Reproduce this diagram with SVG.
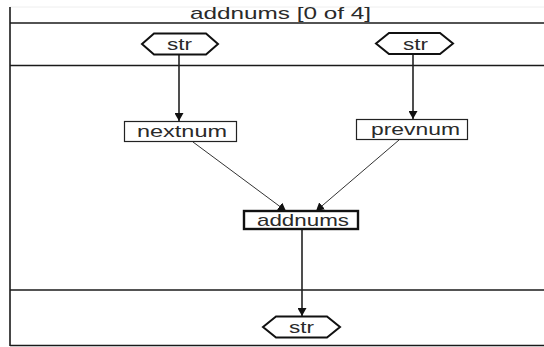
<svg xmlns="http://www.w3.org/2000/svg" width="544" height="347" viewBox="0 0 544 347">
  <style>
    .frame { stroke: #1a1a1a; stroke-width: 1.6; fill: none; }
    .lbl { font-family: "Liberation Sans", Arial, sans-serif; font-size: 17px; fill: #2a2a2a; }
    .port { fill: #fff; stroke: #111; stroke-width: 2; }
    .box { fill: #fff; stroke: #222; stroke-width: 1.2; }
    .boxb { fill: #fff; stroke: #111; stroke-width: 2.4; }
    .edge { stroke: #222; stroke-width: 1.6; fill: none; }
    .thin { stroke: #333; stroke-width: 1; fill: none; }
  </style>
  <defs>
    <marker id="arr" viewBox="0 0 8 9" refX="8" refY="4.5" markerWidth="8" markerHeight="9" markerUnits="userSpaceOnUse" orient="auto">
      <path d="M0,0 L8,4.5 L0,9 Z" fill="#111"/>
    </marker>
  </defs>

  <rect x="0" y="0" width="544" height="347" fill="#fff"/>

  <!-- outer frame and lanes -->
  <g id="frame">
    <line x1="10" y1="7" x2="544" y2="7" stroke="#eee" stroke-width="1"/>
    <line class="frame" x1="10" y1="7" x2="10" y2="346"/>
    <line class="frame" x1="10" y1="23" x2="544" y2="23"/>
    <line class="frame" x1="10" y1="65.5" x2="544" y2="65.5"/>
    <line class="frame" x1="10" y1="290" x2="544" y2="290"/>
    <line class="frame" x1="10" y1="345.5" x2="544" y2="345.5"/>
    <text class="lbl" x="190" y="19" textLength="181" lengthAdjust="spacingAndGlyphs">addnums [0 of 4]</text>
  </g>

  <!-- connectors -->
  <g id="connectors">
    <line class="edge" x1="179" y1="55" x2="179" y2="121" marker-end="url(#arr)"/>
    <line class="edge" x1="413" y1="54" x2="413" y2="119" marker-end="url(#arr)"/>
    <line class="thin" x1="193" y1="142" x2="286" y2="211" marker-end="url(#arr)"/>
    <line class="thin" x1="399" y1="140" x2="316" y2="211" marker-end="url(#arr)"/>
    <line class="edge" x1="302" y1="229" x2="302" y2="316" marker-end="url(#arr)"/>
  </g>

  <g id="str_in1">
    <polygon class="port" points="142,44 154,33.5 206,33.5 218,44 206,54.5 154,54.5"/>
    <text class="lbl" x="167" y="50" textLength="25" lengthAdjust="spacingAndGlyphs">str</text>
  </g>

  <g id="str_in2">
    <polygon class="port" points="376,43.5 389,33 440,33 453,43.5 440,54 389,54"/>
    <text class="lbl" x="403" y="49.5" textLength="25" lengthAdjust="spacingAndGlyphs">str</text>
  </g>

  <g id="nextnum">
    <rect class="box" x="124.5" y="121.5" width="112" height="20"/>
    <text class="lbl" x="137" y="137" textLength="90" lengthAdjust="spacingAndGlyphs">nextnum</text>
  </g>

  <g id="prevnum">
    <rect class="box" x="356.5" y="119.5" width="111" height="20"/>
    <text class="lbl" x="371" y="135" textLength="89" lengthAdjust="spacingAndGlyphs">prevnum</text>
  </g>

  <g id="addnums">
    <rect class="boxb" x="244" y="211" width="114" height="18"/>
    <text class="lbl" x="257" y="226" textLength="92" lengthAdjust="spacingAndGlyphs">addnums</text>
  </g>

  <g id="str_out">
    <polygon class="port" points="263,327 276,316.5 327,316.5 340,327 327,337.5 276,337.5"/>
    <text class="lbl" x="289" y="333" textLength="25" lengthAdjust="spacingAndGlyphs">str</text>
  </g>
</svg>
